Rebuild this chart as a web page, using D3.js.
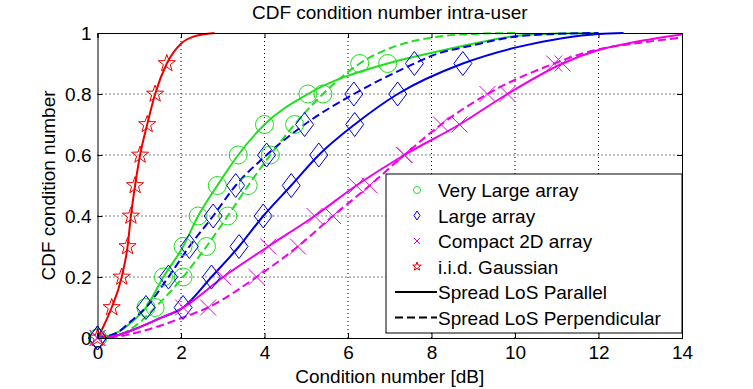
<!DOCTYPE html>
<html>
<head>
<meta charset="utf-8">
<script src="https://cdnjs.cloudflare.com/ajax/libs/d3/7.8.5/d3.min.js"></script>
<style>
  body { margin: 0; background: #fff; }
  svg text { font-family: "Liberation Sans", Arial, sans-serif; fill: #000; }
</style>
</head>
<body>
<div class="cdfchart"></div>
<script>
// CDF levels where the markers sit
const levels = [0, 0.1, 0.2, 0.3, 0.4, 0.5, 0.6, 0.7, 0.8, 0.9];

// marker x positions (dB) at each level
const veryLargePar  = [0, 1.16, 1.58, 2.05, 2.41, 2.87, 3.37, 4.0, 5.04, 6.95];
const veryLargePerp = [0, 1.38, 2.05, 2.61, 3.12, 3.61, 4.14, 4.72, 5.4, 6.28];
const largePar      = [0, 2.05, 2.73, 3.39, 3.97, 4.64, 5.3, 6.16, 7.19, 8.75];
const largePerp     = [0, 1.16, 1.7, 2.2, 2.77, 3.31, 4.05, 4.96, 6.14, 7.59];
const compactPar    = [0, 2.05, 3.01, 4.09, 5.2, 6.2, 7.35, 8.67, 9.82, 11.14];
const compactPerp   = [0, 2.65, 3.81, 4.8, 5.64, 6.52, 7.35, 8.23, 9.34, 10.94];
const iidGauss      = [0, 0.34, 0.58, 0.72, 0.8, 0.9, 1.02, 1.19, 1.38, 1.66];

// extra curve points [dB, cdf] below the first marker and above the last one
const veryLargeParHead  = [[0.5, 0.02], [0.8, 0.05]];
const veryLargeParTail  = [[8, 0.935], [9, 0.965], [10, 0.99], [11, 0.998], [12, 1]];
const veryLargePerpHead = [[0.5, 0.01], [1, 0.05]];
const veryLargePerpTail = [[7, 0.95], [8, 0.985], [9, 0.997], [10, 1]];
const largeParHead      = [[0.5, 0.01], [1, 0.035], [1.5, 0.065]];
const largeParTail      = [[10, 0.952], [11.13, 0.983], [12, 0.997], [12.6, 1]];
const largePerpHead     = [[0.5, 0.02], [0.8, 0.055]];
const largePerpTail     = [[8, 0.925], [9, 0.96], [10, 0.988], [11, 0.997], [12, 1]];
const compactParHead    = [[0.5, 0.01], [1, 0.035], [1.5, 0.065]];
const compactParTail    = [[12, 0.944], [12.9, 0.971], [14, 0.995]];
const compactPerpHead   = [[0.5, 0.005], [1, 0.02], [1.5, 0.04], [2, 0.065]];
const compactPerpTail   = [[11.8, 0.94], [13, 0.968], [14, 0.985]];
const iidGaussHead      = [[0.15, 0.04]];
const iidGaussTail      = [[2, 0.965], [2.3, 0.988], [2.8, 1]];

const xTicks = [0, 2, 4, 6, 8, 10, 12, 14];
const yTicks = [0, 0.2, 0.4, 0.6, 0.8, 1];

const legendLabels = ["Very Large array", "Large array", "Compact 2D array", "i.i.d. Gaussian",
                      "Spread LoS Parallel", "Spread LoS Perpendicular"];

const GREEN = "#1ee01e", BLUE = "#0000e6", MAGENTA = "#ee00ee", RED = "#ee0000";

const series = [
  {xs: veryLargePar,  head: veryLargeParHead,  tail: veryLargeParTail,  color: GREEN,   marker: "circle",  dash: null},
  {xs: veryLargePerp, head: veryLargePerpHead, tail: veryLargePerpTail, color: GREEN,   marker: "circle",  dash: "8,4"},
  {xs: largePar,      head: largeParHead,      tail: largeParTail,      color: BLUE,    marker: "diamond", dash: null},
  {xs: largePerp,     head: largePerpHead,     tail: largePerpTail,     color: BLUE,    marker: "diamond", dash: "8,4"},
  {xs: compactPar,    head: compactParHead,    tail: compactParTail,    color: MAGENTA, marker: "cross",   dash: null},
  {xs: compactPerp,   head: compactPerpHead,   tail: compactPerpTail,   color: MAGENTA, marker: "cross",   dash: "8,4"},
  {xs: iidGauss,      head: iidGaussHead,      tail: iidGaussTail,      color: RED,     marker: "star",    dash: null}
];

const W = 753, H = 389;
const mLeft = 97.5, mRight = 682, mTop = 33, mBottom = 338;

const svg = d3.select(".cdfchart").append("svg")
  .attr("width", W).attr("height", H);

const x = d3.scaleLinear().domain([0, 14]).range([mLeft, mRight]);
const y = d3.scaleLinear().domain([0, 1]).range([mBottom, mTop]);

// marker shapes
function markerPath(type, s) {
  if (type === "circle") {
    return d3.symbol(d3.symbolCircle, Math.PI * s.r * s.r)();
  }
  if (type === "diamond") {
    return `M0,${-s.h}L${s.w},0L0,${s.h}L${-s.w},0Z`;
  }
  if (type === "cross") {
    return `M${-s.c},${-s.c}L${s.c},${s.c}M${-s.c},${s.c}L${s.c},${-s.c}`;
  }
  // five-point star
  let p = "";
  for (let i = 0; i < 10; i++) {
    const rr = i % 2 === 0 ? s.r : s.r * 0.4;
    const a = -Math.PI / 2 + i * Math.PI / 5;
    p += (i === 0 ? "M" : "L") + (rr * Math.cos(a)).toFixed(2) + "," + (rr * Math.sin(a)).toFixed(2);
  }
  return p + "Z";
}
const bigMarker = {circle: {r: 9}, diamond: {w: 9, h: 12}, cross: {c: 8}, star: {r: 9}};
const smallMarker = {circle: {r: 3.5}, diamond: {w: 3, h: 4.5}, cross: {c: 3}, star: {r: 4.5}};

// grid
const grid = svg.append("g");
grid.selectAll(".vgrid").data(xTicks.slice(1, -1)).enter().append("line")
  .attr("x1", d => x(d)).attr("x2", d => x(d)).attr("y1", mTop).attr("y2", mBottom)
  .attr("stroke", "#000").attr("stroke-width", 1).attr("stroke-dasharray", "1,3");
grid.selectAll(".hgrid").data(yTicks.slice(1, -1)).enter().append("line")
  .attr("y1", d => y(d)).attr("y2", d => y(d)).attr("x1", mLeft).attr("x2", mRight)
  .attr("stroke", "#000").attr("stroke-width", 1).attr("stroke-dasharray", "1,3");

// curves
svg.append("clipPath").attr("id", "plotclip").append("rect")
  .attr("x", mLeft).attr("y", mTop - 2).attr("width", mRight - mLeft).attr("height", mBottom - mTop + 4);

const line = d3.line()
  .x(d => x(d[0])).y(d => y(d[1]))
  .curve(d3.curveMonotoneX);

const plot = svg.append("g").attr("clip-path", "url(#plotclip)");
series.forEach(s => {
  const pts = [[0, 0]].concat(s.head, s.xs.slice(1).map((v, i) => [v, levels[i + 1]]), s.tail);
  plot.append("path")
    .datum(pts)
    .attr("d", line)
    .attr("fill", "none")
    .attr("stroke", s.color)
    .attr("stroke-width", 2)
    .attr("stroke-dasharray", s.dash);
});

// markers
const marks = svg.append("g");
series.forEach(s => {
  marks.selectAll(null)
    .data(s.xs.map((v, i) => [v, levels[i]]))
    .enter().append("path")
    .attr("transform", d => "translate(" + x(d[0]) + "," + y(d[1]) + ")")
    .attr("d", markerPath(s.marker, bigMarker[s.marker]))
    .attr("fill", "none")
    .attr("stroke", s.color)
    .attr("stroke-width", 1);
});

// axes, ticks inward on all four sides
const fontSize = 19;
svg.append("g").attr("transform", "translate(0," + mBottom + ")")
  .call(d3.axisBottom(x).tickValues(xTicks).tickSize(-5).tickPadding(8).tickFormat(d3.format("d")));
svg.append("g").attr("transform", "translate(" + mLeft + ",0)")
  .call(d3.axisLeft(y).tickValues(yTicks).tickSize(-5).tickPadding(6).tickFormat(d => d));
svg.append("g").attr("transform", "translate(0," + mTop + ")")
  .call(d3.axisTop(x).tickValues(xTicks).tickSize(-5).tickFormat(""));
svg.append("g").attr("transform", "translate(" + mRight + ",0)")
  .call(d3.axisRight(y).tickValues(yTicks).tickSize(-5).tickFormat(""));

svg.selectAll(".domain").attr("stroke", "#000").attr("stroke-width", 1);
svg.selectAll(".tick line").attr("stroke", "#000");
svg.selectAll(".tick text").attr("font-size", fontSize)
  .style("font-family", "'Liberation Sans', Arial, sans-serif").attr("fill", "#000");

// legend
const legend = svg.append("g");
const lgX = 386, lgY = 174, lgW = 296, lgH = 159;
legend.append("rect")
  .attr("x", lgX).attr("y", lgY).attr("width", lgW).attr("height", lgH)
  .attr("fill", "#fff").attr("stroke", "#000").attr("stroke-width", 1);

const legendMarks = [
  {marker: "circle", color: GREEN},
  {marker: "diamond", color: BLUE},
  {marker: "cross", color: MAGENTA},
  {marker: "star", color: RED},
  {dash: null},
  {dash: "8,4"}
];
const rowH = 25.5;
legendLabels.forEach((lab, i) => {
  const cy = lgY + 16 + i * rowH;
  const m = legendMarks[i];
  if (m.marker) {
    legend.append("path")
      .attr("transform", "translate(417," + cy + ")")
      .attr("d", markerPath(m.marker, smallMarker[m.marker]))
      .attr("fill", "none").attr("stroke", m.color).attr("stroke-width", 1);
  } else {
    legend.append("line")
      .attr("x1", 395).attr("x2", 437).attr("y1", cy).attr("y2", cy)
      .attr("stroke", "#000").attr("stroke-width", 2)
      .attr("stroke-dasharray", m.dash);
  }
  legend.append("text")
    .attr("x", 438).attr("y", cy + 7)
    .attr("font-size", fontSize)
    .text(lab);
});

// titles
svg.append("text")
  .attr("x", (mLeft + mRight) / 2).attr("y", 19)
  .attr("text-anchor", "middle").attr("font-size", fontSize)
  .text("CDF condition number intra-user");
svg.append("text")
  .attr("x", (mLeft + mRight) / 2).attr("y", 383)
  .attr("text-anchor", "middle").attr("font-size", fontSize)
  .text("Condition number [dB]");
svg.append("text")
  .attr("transform", "translate(55," + (mTop + mBottom) / 2 + ") rotate(-90)")
  .attr("text-anchor", "middle").attr("font-size", fontSize)
  .text("CDF condition number");
</script>
</body>
</html>
